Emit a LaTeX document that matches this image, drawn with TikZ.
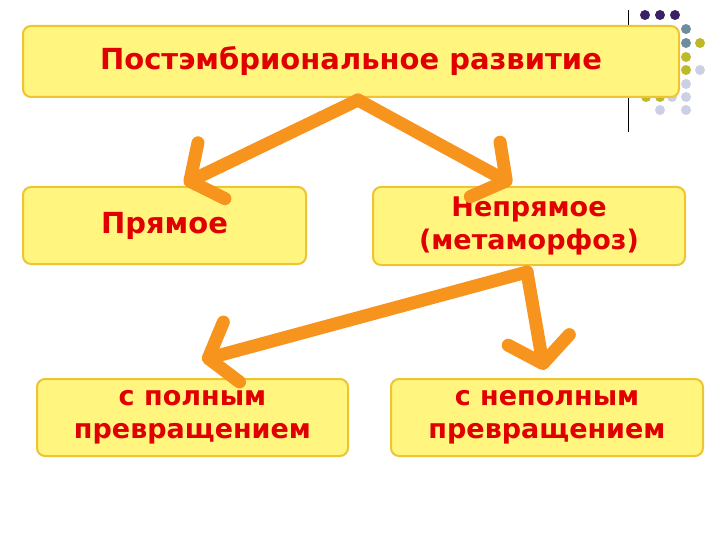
\documentclass[tikz,border=0pt]{standalone}
\usepackage{fontspec}
\setmainfont{DejaVu Sans}
\usetikzlibrary{arrows.meta}
\definecolor{boxfill}{HTML}{FFF57F}
\definecolor{boxline}{HTML}{EEC430}
\definecolor{txt}{HTML}{E00000}
\definecolor{arr}{HTML}{F7941D}
\definecolor{dpur}{HTML}{3B2063}
\definecolor{dgb}{HTML}{6E8E9E}
\definecolor{dol}{HTML}{BDBA2A}
\definecolor{dlav}{HTML}{CCD0E4}
\tikzset{
 box/.style={draw=boxline,line width=2pt,fill=boxfill,rounded corners=8pt,anchor=north west,inner sep=0pt,
   align=center,text=txt,font=\bfseries\fontsize{27}{33}\selectfont},
 arrline/.style={draw=arr,line width=13pt,line cap=round,-{Straight Barb[length=24pt,width=62pt,line width=13pt,round]}},
 dot/.style={circle,inner sep=0pt,minimum size=10pt},
}
\begin{document}
\begin{tikzpicture}[x=1pt,y=-1pt]
\useasboundingbox (0,0) rectangle (720,540);
\draw[line width=1pt] (628,10) -- (628,132);
\foreach \x in {645,660,675} \node[dot,fill=dpur] at (\x,15) {};
\node[dot,fill=dgb] at (686,29) {};
\node[dot,fill=dgb] at (686,43) {};
\node[dot,fill=dol] at (700,43) {};
\node[dot,fill=dol] at (686,57) {};
\node[dot,fill=dol] at (686,70) {};
\node[dot,fill=dlav] at (700,70) {};
\node[dot,fill=dlav] at (686,84) {};
\node[dot,fill=dol] at (646,97) {};
\node[dot,fill=dol] at (660,97) {};
\node[dot,fill=dlav] at (672,97) {};
\node[dot,fill=dlav] at (686,97) {};
\node[dot,fill=dlav] at (660,110) {};
\node[dot,fill=dlav] at (686,110) {};
\node[box,minimum width=656pt,minimum height=71pt,font=\bfseries\fontsize{29}{36}\selectfont] (top) at (22,25) {Постэмбриональное развитие};
\node[box,minimum width=283pt,minimum height=77pt,font=\bfseries\fontsize{29}{36}\selectfont] (pr) at (22,186) {Прямое};
\node[box,minimum width=312pt,minimum height=78pt] (np) at (372,186) {Непрямое\\(метаморфоз)};
\node[box,minimum width=311pt,minimum height=77pt] (pol) at (36,378) {с полным\\превращением};
\node[box,minimum width=312pt,minimum height=77pt] (npol) at (390,378) {с неполным\\превращением};
\coordinate (a0) at (358,100);
\coordinate (b0) at (527,272);
\draw[arrline] (a0) -- (184,184);
\draw[arrline] (a0) -- (512,184);
\draw[arrline] (b0) -- (202,360);
\draw[arrline] (b0) -- (544,370);
\end{tikzpicture}
\end{document}
